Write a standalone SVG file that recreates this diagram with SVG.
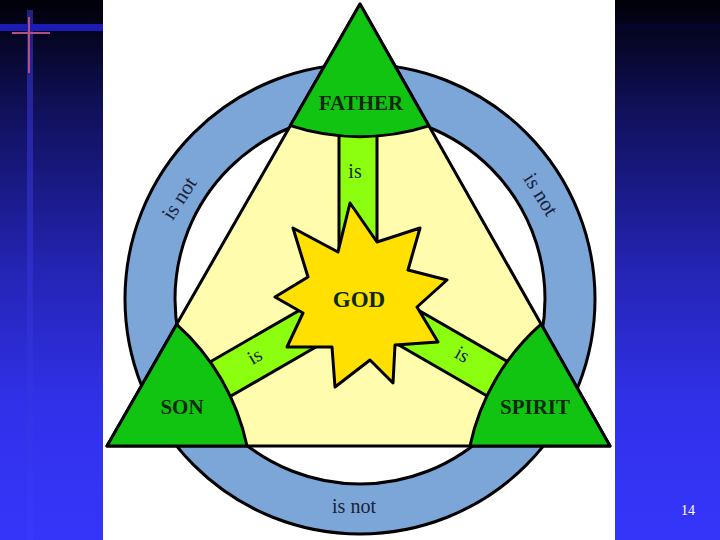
<svg xmlns="http://www.w3.org/2000/svg" width="720" height="540" viewBox="0 0 720 540">
  <defs>
    <linearGradient id="bg" x1="0" y1="0" x2="0" y2="1">
      <stop offset="0" stop-color="#000008"/>
      <stop offset="0.2" stop-color="#10105a"/>
      <stop offset="0.5" stop-color="#2424b4"/>
      <stop offset="0.75" stop-color="#3131ea"/>
      <stop offset="1" stop-color="#3535fa"/>
    </linearGradient>
    <linearGradient id="band" x1="0" y1="0" x2="0" y2="1">
      <stop offset="0" stop-color="#25259a"/>
      <stop offset="1" stop-color="#3838ff"/>
    </linearGradient>
    <style>
      .ol { stroke: #000; stroke-width: 3; stroke-linejoin: round; }
      .cap { fill: #12c412; }
      .bar { fill: #8cff10; }
      .name { font-family: "Liberation Serif", serif; font-weight: bold; font-size: 21px; fill: #0a2a0a; text-anchor: middle; }
      .lbl { font-family: "Liberation Serif", serif; font-size: 20px; fill: #1a1f3a; text-anchor: middle; }
    </style>
  </defs>

  <!-- slide background -->
  <rect x="0" y="0" width="720" height="540" fill="url(#bg)"/>
  <rect x="27" y="10" width="6" height="530" fill="url(#band)" opacity="0.85"/>
  <rect x="0" y="24" width="103" height="7" fill="#1c1cb4"/>
  <rect x="615" y="24" width="105" height="7" fill="#05052a"/>
  <line x1="29" y1="17" x2="29" y2="73" stroke="#b0507e" stroke-width="2"/>
  <line x1="12" y1="33" x2="50" y2="33" stroke="#b0507e" stroke-width="2"/>

  <!-- white panel -->
  <rect x="103" y="0" width="512" height="540" fill="#ffffff"/>

  <!-- connectors: ring (is not) and bars (is) -->
  <g id="connectors">
    <circle cx="360" cy="299" r="235" fill="#7ca6d8" class="ol"/>
    <circle cx="360" cy="299" r="185" fill="#ffffff" class="ol"/>
    <polygon points="360,4 107,446 610,446" fill="#fffcae" class="ol"/>
    <rect x="0" y="-19" width="185" height="38" class="bar ol" transform="translate(358,299) rotate(-90)"/>
    <rect x="0" y="-20" width="185" height="40" class="bar ol" transform="translate(359,299) rotate(150)"/>
    <rect x="0" y="-20" width="185" height="40" class="bar ol" transform="translate(359,299) rotate(30)"/>
    <text class="lbl" x="355" y="178">is</text>
    <text class="lbl" transform="translate(258,362) rotate(-30)">is</text>
    <text class="lbl" transform="translate(459,360) rotate(30)">is</text>
    <text class="lbl" style="font-size:21px" transform="translate(185,202) rotate(-57)">is not</text>
    <text class="lbl" style="font-size:21px" transform="translate(535,198) rotate(58)">is not</text>
    <text class="lbl" x="354" y="513">is not</text>
  </g>

  <g id="father">
    <path class="cap ol" d="M360,4 L290.4,125.6 A225,225 0 0 0 428.9,125.9 Z"/>
    <text class="name" x="361" y="110">FATHER</text>
  </g>

  <g id="son">
    <path class="cap ol" d="M107,446 L176.6,324.4 A225,225 0 0 1 247,446 Z"/>
    <text class="name" x="182" y="414">SON</text>
  </g>

  <g id="spirit">
    <path class="cap ol" d="M610,446 L541.1,324.1 A225,225 0 0 0 470,446 Z"/>
    <text class="name" x="535" y="414">SPIRIT</text>
  </g>

  <g id="god">
    <polygon class="ol" fill="#ffe000" points="350,203 377,242 420,228 408,270 447,280 417,307 438,342 395,345 393,383 370,360 335,387 332,347 287,347 303,313 275,297 308,277 293,228 338,252"/>
    <text class="name" x="359" y="307" style="font-size:23px">GOD</text>
  </g>

  <text x="688" y="515" font-family="Liberation Serif, serif" font-size="14" fill="#ffffff" text-anchor="middle">14</text>
</svg>
